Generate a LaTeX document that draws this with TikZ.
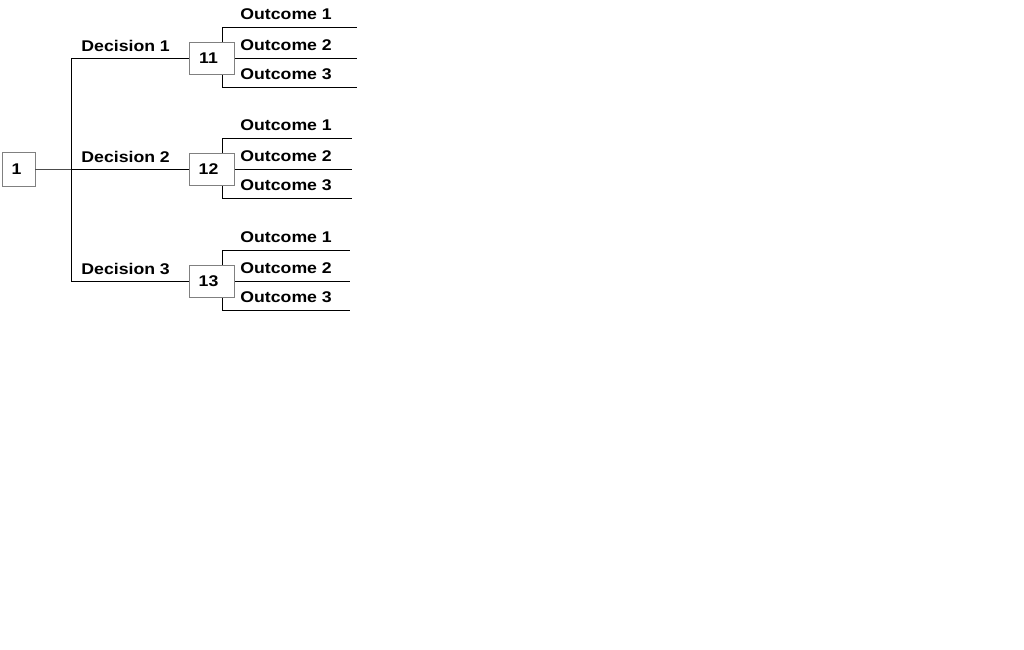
\documentclass[tikz,border=0pt]{standalone}
\usepackage{fontspec}
\setmainfont{Liberation Sans}
\usepackage{graphicx}
\usetikzlibrary{positioning,backgrounds}
\newcommand{\lbl}[1]{\scalebox{1.14}[1]{\bfseries #1}}

\begin{document}
\begin{tikzpicture}[x=1pt,y=-1pt,line width=0.9pt,
    box/.style={draw=gray,fill=white,minimum width=45pt,minimum height=32pt,inner sep=0pt,font=\fontsize{15.5}{18}\selectfont},
    txt/.style={inner sep=0pt,font=\fontsize{15.5}{18}\selectfont}]
    \useasboundingbox (0,0) rectangle (1024,649);
    \node[box,minimum width=33pt,minimum height=34pt] (root) at (18.5,169) {\lbl{1}\hspace*{4pt}\mbox{}};
    \coordinate (t1) at (71,58);
    \coordinate (t2) at (71,169);
    \coordinate (t3) at (71,281);
    \draw (t1) -- (t3);
    \draw[black!70] (root) -- (t2);
    \foreach \i/\y/\e in {1/58/357, 2/169/352, 3/281/350} {
        \node[box] (d\i) at (212,\y) {\lbl{1\i}\hspace*{7pt}\mbox{}};
        \coordinate (oa\i) at (222,\y-30.5);
        \coordinate (ob\i) at (222,\y);
        \coordinate (oc\i) at (222,\y+29);
        \coordinate (ea\i) at (\e,\y-30.5);
        \coordinate (eb\i) at (\e,\y);
        \coordinate (ec\i) at (\e,\y+29);
        \begin{scope}[on background layer]
            \draw (t\i) -- (d\i.west);
            \draw (oa\i) -- (oc\i);
            \draw (d\i) -- (eb\i);
        \end{scope}
        \draw (oa\i) -- (ea\i);
        \draw (oc\i) -- (ec\i);
        \node[txt,above right=6pt and 10pt of t\i] (dl\i) {\lbl{Decision \i}};
        \node[txt,above right=7pt and 18pt of oa\i] (la\i) {\lbl{Outcome 1}};
        \node[txt,above right=7pt and 18pt of ob\i] (lb\i) {\lbl{Outcome 2}};
        \node[txt,above right=7pt and 18pt of oc\i] (lc\i) {\lbl{Outcome 3}};
    }
\end{tikzpicture}
\end{document}
